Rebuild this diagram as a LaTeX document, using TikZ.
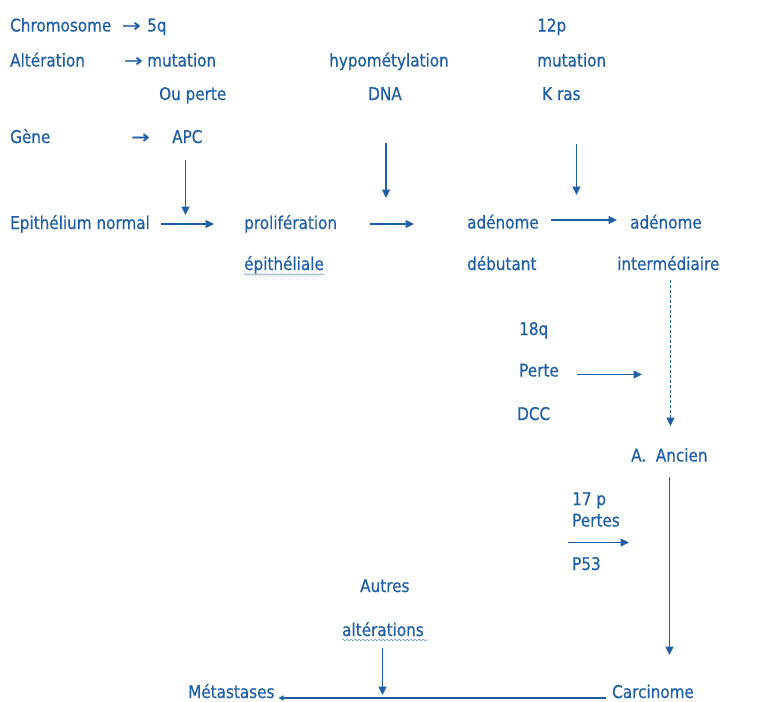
\documentclass[tikz,border=0pt]{standalone}
\usepackage{fontspec}
\setmainfont{DejaVu Sans}[FakeStretch=0.87,FakeBold=0.6]
\usetikzlibrary{arrows.meta,decorations.pathmorphing}
\definecolor{txtblue}{RGB}{31,95,166}
\definecolor{wavyblue}{RGB}{120,155,210}
\newcommand{\bigarr}{\scalebox{1.45}[1]{→}}
\begin{document}
\begin{tikzpicture}[x=1pt,y=-1pt,
 lbl/.style={anchor=base west,inner sep=0pt,text=txtblue,font=\fontsize{17.5}{20}\selectfont},
 arr/.style={draw=txtblue,line width=1.3pt,-{Triangle[length=8.5pt,width=8pt]}},
 smallarr/.style={draw=txtblue,line width=1.3pt,-{Triangle[length=5pt,width=5pt]}},
 dasharr/.style={arr,dash pattern=on 3pt off 2pt},
 squig/.style={draw=wavyblue,line width=0.6pt,decorate,decoration={snake,segment length=4pt,amplitude=0.8pt}}]
\useasboundingbox (0,0) rectangle (780,702);

% texts
\node[lbl] (chr) at (10,31.5) {Chromosome};
\node[lbl] (chrarr) at (122,31.5) {\bigarr};
\node[lbl] (q5) at (147,31.5) {5q};
\node[lbl] (alt) at (10,66.5) {Altération};
\node[lbl] (altarr) at (124,66.5) {\bigarr};
\node[lbl] (mut1) at (147,66.5) {mutation};
\node[lbl] (ouperte) at (159,100) {Ou perte};
\node[lbl] (gene) at (10,143) {Gène};
\node[lbl] (garr) at (131,143) {\bigarr};
\node[lbl] (apc) at (172,143) {APC};
\node[lbl] (hypo) at (329,66.5) {hypométylation};
\node[lbl] (dna) at (368,100) {DNA};
\node[lbl] (p12) at (537,31.5) {12p};
\node[lbl] (mut2) at (537,66.5) {mutation};
\node[lbl] (kras) at (542,100) {K ras};
\node[lbl] (epi) at (10,229) {Epithélium normal};
\node[lbl] (prolif) at (244,229) {prolifération};
\node[lbl] (epith) at (244,270) {épithéliale};
\node[lbl] (aden1) at (467,228.5) {adénome};
\node[lbl] (debut) at (467,270) {débutant};
\node[lbl] (aden2) at (630,228.5) {adénome};
\node[lbl] (inter) at (617,270) {intermédiaire};
\node[lbl] (q18) at (519,335) {18q};
\node[lbl] (perte) at (519,376.5) {Perte};
\node[lbl] (dcc) at (517,420) {DCC};
\node[lbl] (ancien) at (631,461.5) {A.\ \ Ancien};
\node[lbl] (p17) at (572,505) {17 p};
\node[lbl] (pertes) at (572,526.5) {Pertes};
\node[lbl] (p53) at (572,570) {P53};
\node[lbl] (autres) at (360,592) {Autres};
\node[lbl] (alters) at (342,636) {altérations};
\node[lbl] (meta) at (188,698) {Métastases};
\node[lbl] (carci) at (612,698) {Carcinome};

% wavy underlines
\coordinate (w1s) at (244,274.5); \coordinate (w1e) at (324,274.5);
\coordinate (w2s) at (342,640); \coordinate (w2e) at (428,640);
\draw[squig] (w1s) -- (w1e);
\draw[squig] (w2s) -- (w2e);

% arrow end points
\coordinate (a1s) at (161,224); \coordinate (a1e) at (214,224);
\coordinate (v1s) at (185.5,160); \coordinate (v1e) at (185.5,215);
\coordinate (a2s) at (370,224); \coordinate (a2e) at (414,224);
\coordinate (v2s) at (386,143); \coordinate (v2e) at (386,198);
\coordinate (a3s) at (551,220); \coordinate (a3e) at (617,220);
\coordinate (v3s) at (576.5,144); \coordinate (v3e) at (576.5,195);
\coordinate (d1s) at (670.5,280); \coordinate (d1e) at (670.5,426);
\coordinate (a4s) at (577,374.5); \coordinate (a4e) at (642,374.5);
\coordinate (v4s) at (669.5,477); \coordinate (v4e) at (669.5,655);
\coordinate (a5s) at (568,542.5); \coordinate (a5e) at (629,542.5);
\coordinate (v5s) at (382.5,648); \coordinate (v5e) at (382.5,695);
\coordinate (bs) at (606,698); \coordinate (be) at (278.5,698);

% connectors
\draw[arr] (a1s) -- (a1e);
\draw[arr] (v1s) -- (v1e);
\draw[arr] (a2s) -- (a2e);
\draw[arr] (v2s) -- (v2e);
\draw[arr] (a3s) -- (a3e);
\draw[arr] (v3s) -- (v3e);
\draw[dasharr] (d1s) -- (d1e);
\draw[arr] (a4s) -- (a4e);
\draw[arr] (v4s) -- (v4e);
\draw[arr] (a5s) -- (a5e);
\draw[arr] (v5s) -- (v5e);
\draw[smallarr] (bs) -- (be);
\end{tikzpicture}
\end{document}
